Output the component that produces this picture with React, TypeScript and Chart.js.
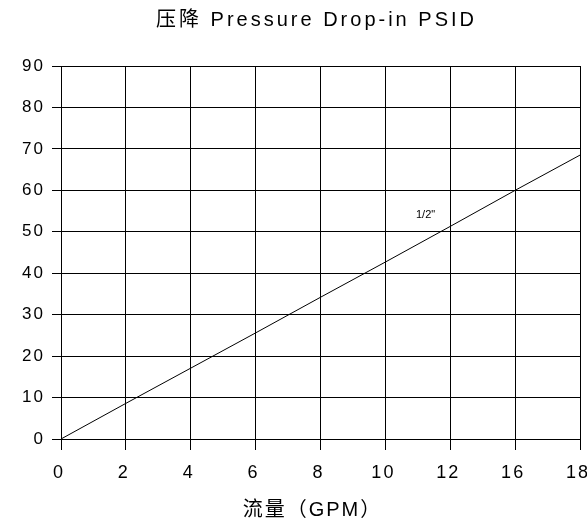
import { useEffect, useRef } from 'react';
import { Chart, registerables } from 'chart.js';

Chart.register(...registerables);

// ---- data ----
const flowLabels = ['0', '2', '4', '6', '8', '10', '12', '16', '18'];
const pressureDrop = [0, 8.6, 17.1, 25.6, 34.2, 42.7, 51.3, 60, 68.5];
const seriesName = '1/2"';
const seriesLabelAt = [5.62, 54];
const yMin = 0;
const yMax = 90;
const yStep = 10;
const chartTitle = '压降 Pressure Drop-in PSID';
const xAxisTitle = '流量（GPM）';

const FONT = '"Liberation Sans", Arial, "Noto Sans CJK SC", sans-serif';
const TITLE_SHIFT = -4;
const XTITLE_SHIFT = -8;

const spacingPlugin = {
  id: 'spacing',
  beforeUpdate(chart: any) {
    chart.ctx.letterSpacing = '2px';
  },
  beforeDraw(chart: any) {
    const ctx = chart.ctx;
    ctx.letterSpacing = '2px';
    const tb = chart.titleBlock;
    if (tb && !tb.__spaced) {
      const orig = tb.draw.bind(tb);
      tb.draw = (...args: any[]) => {
        ctx.save();
        ctx.letterSpacing = '3px';
        ctx.translate(TITLE_SHIFT, 0);
        orig(...args);
        ctx.restore();
      };
      tb.__spaced = true;
    }
    const xs = chart.scales.x;
    if (xs && !xs.__shifted) {
      const origT = xs.drawTitle.bind(xs);
      xs.drawTitle = (...args: any[]) => {
        ctx.save();
        ctx.translate(XTITLE_SHIFT, 0);
        origT(...args);
        ctx.restore();
      };
      xs.__shifted = true;
    }
  },
};

const seriesLabelPlugin = {
  id: 'seriesLabel',
  afterDatasetsDraw(chart: any) {
    const { ctx, scales } = chart;
    ctx.save();
    ctx.letterSpacing = '0px';
    ctx.font = `11px ${FONT}`;
    ctx.fillStyle = '#000';
    ctx.textAlign = 'center';
    ctx.textBaseline = 'middle';
    ctx.fillText(
      seriesName,
      scales.x.getPixelForValue(seriesLabelAt[0]),
      scales.y.getPixelForValue(seriesLabelAt[1])
    );
    ctx.restore();
  },
};

export default function App() {
  const ref = useRef<HTMLCanvasElement | null>(null);

  useEffect(() => {
    if (!ref.current) return;
    const chart = new Chart(ref.current, {
      type: 'line',
      data: {
        labels: flowLabels,
        datasets: [
          {
            label: seriesName,
            data: pressureDrop,
            borderColor: '#000',
            borderWidth: 1,
            pointRadius: 0,
            tension: 0,
            fill: false,
          },
        ],
      },
      options: {
        responsive: false,
        animation: false,
        devicePixelRatio: 1,
        layout: { padding: { left: 0, right: 7, top: 0, bottom: 0 } },
        plugins: {
          legend: { display: false },
          tooltip: { enabled: false },
          title: {
            display: true,
            fullSize: false,
            text: chartTitle,
            color: '#000',
            font: { family: FONT, size: 20, weight: 'normal' },
            padding: { top: 8, bottom: 34 },
          },
        },
        scales: {
          x: {
            type: 'category',
            offset: false,
            grid: { color: '#000', lineWidth: 1, tickLength: 11, tickColor: '#000', offset: false },
            border: { color: '#000', width: 1 },
            ticks: {
              color: '#000',
              font: { family: FONT, size: 18 },
              padding: 12,
              labelOffset: -2,
              maxRotation: 0,
              autoSkip: false,
            },
            title: {
              display: true,
              text: xAxisTitle,
              color: '#000',
              font: { family: FONT, size: 20 },
              padding: { top: 0, bottom: 1 },
            },
            afterFit(s: any) {
              s.height = 84;
              s.paddingLeft = 0;
              s.paddingRight = 0;
            },
          },
          y: {
            min: yMin,
            max: yMax,
            ticks: { stepSize: yStep, color: '#000', font: { family: FONT, size: 17 }, padding: 7 },
            grid: { color: '#000', lineWidth: 1, tickLength: 9, tickColor: '#000' },
            border: { color: '#000', width: 1 },
            afterFit(s: any) {
              s.width = 61;
            },
          },
        },
      },
      plugins: [spacingPlugin, seriesLabelPlugin],
    } as any);
    return () => chart.destroy();
  }, []);

  return (
    <div style={{ position: 'fixed', left: 0, top: 0, width: 587, height: 523, background: '#fff' }}>
      <canvas ref={ref} width={587} height={523} />
    </div>
  );
}
